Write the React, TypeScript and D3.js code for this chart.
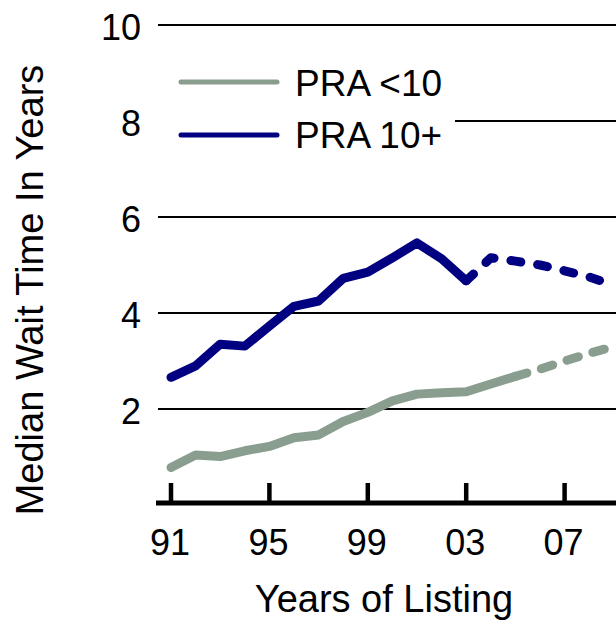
import React from "react";
import * as d3 from "d3";

const years = [1991, 1992, 1993, 1994, 1995, 1996, 1997, 1998, 1999, 2000, 2001, 2002, 2003, 2004, 2005, 2006, 2007, 2008, 2009];
const pra10Plus = [2.66, 2.9, 3.35, 3.31, 3.73, 4.14, 4.25, 4.72, 4.85, 5.15, 5.46, 5.13, 4.67, 5.15, 5.08, 5.0, 4.88, 4.75, 4.58];
const praUnder10 = [0.78, 1.04, 1.01, 1.13, 1.22, 1.4, 1.46, 1.74, 1.93, 2.17, 2.31, 2.34, 2.36, 2.52, 2.68, 2.83, 3.0, 3.16, 3.3];
const xTickYears = [1991, 1995, 1999, 2003, 2007];
const xTickLabels = ["91", "95", "99", "03", "07"];
const yTicks = [2, 4, 6, 8, 10];
const seriesNames = ["PRA <10", "PRA 10+"];
const blueSolidEnd = 2003;
const graySolidEnd = 2005;

const W = 616;
const H = 620;
const BLUE = "#000080";
const GRAY = "#8a9e8f";
const FONT = "'Liberation Sans', Arial, sans-serif";

export default function App() {
  const x = d3.scaleLinear().domain([1991, 2007]).range([171, 564.6]);
  const y = d3.scaleLinear().domain([0, 10]).range([505, 25]);

  type P = { yr: number; v: number };
  const blue: P[] = years.map((yr, i) => ({ yr, v: pra10Plus[i] }));
  const gray: P[] = years.map((yr, i) => ({ yr, v: praUnder10[i] }));
  const line = d3
    .line<P>()
    .x((d) => x(d.yr))
    .y((d) => y(d.v));

  const blueSolid = line(blue.filter((d) => d.yr <= blueSolidEnd)) || "";
  const blueDash = line(blue.filter((d) => d.yr >= blueSolidEnd)) || "";
  const graySolid = line(gray.filter((d) => d.yr <= graySolidEnd)) || "";
  const grayDash = line(gray.filter((d) => d.yr >= graySolidEnd)) || "";

  const gridX0 = 158;
  const axisY = y(0) - 2;

  return (
    <svg
      width={W}
      height={H}
      style={{ position: "absolute", left: 0, top: 0, background: "#fff" }}
      fontFamily={FONT}
    >
      <rect x={0} y={0} width={W} height={H} fill="#fff" />
      {yTicks.map((t) => (
        <g key={t}>
          <line x1={gridX0} x2={W + 10} y1={y(t)} y2={y(t)} stroke="#000" strokeWidth={2} />
          <text x={141} y={y(t) + 15} textAnchor="end" fontSize={36} fill="#000">
            {t}
          </text>
        </g>
      ))}
      {/* x axis */}
      <line x1={156} x2={W + 10} y1={axisY} y2={axisY} stroke="#000" strokeWidth={5} />
      {xTickYears.map((t, i) => (
        <g key={t}>
          <line x1={x(t)} x2={x(t)} y1={483} y2={axisY} stroke="#000" strokeWidth={4.5} />
          <text x={x(t) - 1} y={555} textAnchor="middle" fontSize={36} fill="#000">
            {xTickLabels[i]}
          </text>
        </g>
      ))}

      {/* legend box */}
      <rect x={150} y={45} width={305} height={120} fill="#fff" />
      <line x1={181} x2={277} y1={82} y2={82} stroke={GRAY} strokeWidth={5} strokeLinecap="round" />
      <text x={295} y={96} fontSize={37} fill="#000">
        {seriesNames[0]}
      </text>
      <line x1={181} x2={277} y1={135} y2={135} stroke={BLUE} strokeWidth={5} strokeLinecap="round" />
      <text x={295} y={148} fontSize={37} fill="#000">
        {seriesNames[1]}
      </text>

      {/* series */}
      <path d={graySolid} fill="none" stroke={GRAY} strokeWidth={9} strokeLinecap="round" strokeLinejoin="round" />
      <path d={grayDash} fill="none" stroke={GRAY} strokeWidth={9} strokeLinecap="round" strokeLinejoin="round" strokeDasharray="12,15" />
      <path d={blueSolid} fill="none" stroke={BLUE} strokeWidth={9} strokeLinecap="round" strokeLinejoin="round" />
      <path d={blueDash} fill="none" stroke={BLUE} strokeWidth={9} strokeLinecap="round" strokeLinejoin="round" strokeDasharray="10,17" />

      {/* axis titles */}
      <text x={384} y={612} textAnchor="middle" fontSize={38} fill="#000">
        Years of Listing
      </text>
      <text
        transform={`translate(43,290) rotate(-90)`}
        textAnchor="middle"
        fontSize={38}
        fill="#000"
      >
        Median Wait Time In Years
      </text>
    </svg>
  );
}
